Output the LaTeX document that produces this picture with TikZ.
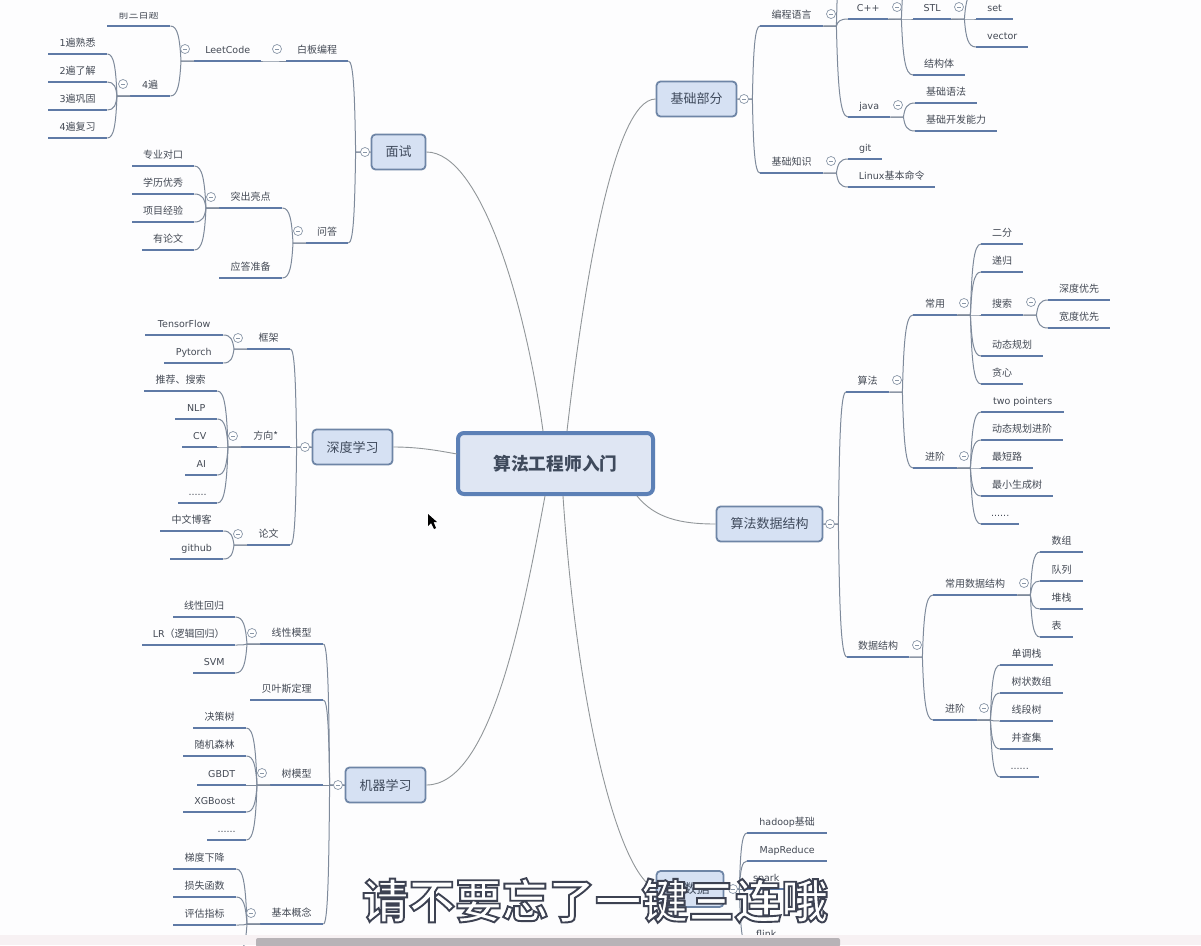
\documentclass[tikz,border=0pt]{standalone}
\usepackage{fontspec}
\usetikzlibrary{calc}
\setmainfont{Noto Sans CJK SC}
\newfontfamily\latf{DejaVu Sans}
\newfontfamily\subf[BoldFont={Noto Sans CJK SC Bold}]{Noto Sans CJK SC}
\newcommand{\lat}[1]{{\latf\fontsize{9.5}{11}\selectfont #1}}
\definecolor{pagebg}{HTML}{FDFDFE}
\definecolor{barc}{HTML}{5F7AA6}
\definecolor{connc}{HTML}{7E8A9B}
\definecolor{mainc}{HTML}{919699}
\definecolor{boxfill}{HTML}{D6E1F3}
\definecolor{boxline}{HTML}{6E85A6}
\definecolor{mainfill}{HTML}{DFE6F3}
\definecolor{mainline}{HTML}{5C80B6}
\definecolor{txtc}{HTML}{444A55}
\definecolor{boxtxt}{HTML}{3F4A5C}
\definecolor{stripc}{HTML}{F7F1F3}
\definecolor{scrollc}{HTML}{B7B3B7}
\definecolor{togc}{HTML}{8A97A8}
\tikzset{
  x=1pt,y=-1pt,
  barnode/.style={anchor=south west,inner sep=0pt,minimum height=21pt,text height=8.6pt,text depth=1.4pt,align=center,font=\fontsize{10}{12}\selectfont,text=txtc},
  barline/.style={draw=barc,line width=2.6pt},
  conn/.style={draw=connc,line width=1pt},
  mainconn/.style={draw=mainc,line width=0.9pt},
  topicbox/.style={draw=boxline,fill=boxfill,line width=1.8pt,rounded corners=4pt,inner sep=0pt,font=\fontsize{13}{15}\selectfont,text=boxtxt},
  centerbox/.style={draw=mainline,fill=mainfill,line width=4pt,rounded corners=6pt,inner sep=0pt,font=\fontsize{17.7}{20}\bfseries\selectfont,text=boxtxt},
  toggle/.style={circle,draw=togc,fill=white,line width=0.7pt,minimum size=9pt,inner sep=0pt,
    path picture={\draw[togc,line width=0.7pt] ([xshift=-2pt]path picture bounding box.center) -- ([xshift=2pt]path picture bounding box.center);}},
}
% bar topic: name, x1, x2, y, text
\newcommand{\tb}[5]{\pgfmathsetmacro{\tbw}{#3-#2}
  \node[barnode,minimum width=\tbw pt] (#1) at (#2,#4) {#5};
  \draw[barline] (#1.south west) -- (#1.south east);}
\newcommand{\lkgen}[3]{\draw[conn] let \p1=(#1),\p2=(#2),\n1={\x1+(#3)} in
  (\p1) -- (\n1,\y1) .. controls ({\n1+0.12*(\x2-\n1)},{\y1+0.65*(\y2-\y1)}) and ({\n1+0.3*(\x2-\n1)},\y2) .. (\p2);}
\newcommand{\lkR}[2]{\lkgen{#1.south east}{#2.south west}{13}}
\newcommand{\lkL}[2]{\lkgen{#1.south west}{#2.south east}{-13}}
\newcommand{\bxR}[2]{\lkgen{#1.east}{#2.south west}{15}}
\newcommand{\bxL}[2]{\lkgen{#1.west}{#2.south east}{-15}}
\begin{document}
\begin{tikzpicture}
\useasboundingbox (0,0) rectangle (1201,945);
\clip (0,0) rectangle (1201,945);
\fill[pagebg] (0,0) rectangle (1201,945);

% central and main topics
\node[centerbox,minimum width=195pt,minimum height=61pt] (root) at (555.5,463.5) {算法工程师入门};
\node[topicbox,minimum width=54pt,minimum height=35pt] (ms) at (398.5,152) {面试};
\node[topicbox,minimum width=80pt,minimum height=35pt] (sd) at (352.5,447) {深度学习};
\node[topicbox,minimum width=80pt,minimum height=35pt] (jq) at (385.5,785) {机器学习};
\node[topicbox,minimum width=80pt,minimum height=35pt] (jc) at (696.5,99) {基础部分};
\node[topicbox,minimum width=106pt,minimum height=35pt] (sf) at (769.5,524) {算法数据结构};
\node[topicbox,minimum width=67pt,minimum height=36pt] (bd) at (690,889) {大数据};

\coordinate (r1) at (543,431);
\coordinate (r2) at (567,431);
\coordinate (r3) at (457,454);
\coordinate (r4) at (545,496);
\coordinate (r5) at (637,496);
\coordinate (r6) at (563,496);
\draw[mainconn] (ms.east) .. controls (480,152) and (525,300) .. (r1);
\draw[mainconn] (jc.west) .. controls (612,99) and (582,300) .. (r2);
\draw[mainconn] (sd.east) .. controls (420,447) and (440,451) .. (r3);
\draw[mainconn] (jq.east) .. controls (490,785) and (522,620) .. (r4);
\draw[mainconn] (sf.west) .. controls (680,524) and (655,518) .. (r5);
\draw[mainconn] (bd.west) .. controls (620,875) and (578,720) .. (r6);

% interview
\tb{bb}{286}{348}{61}{白板编程}
\tb{lc}{194}{261}{61}{\lat{LeetCode}}
\tb{qs}{107}{170}{26}{前三百题}
\tb{si}{130}{170}{96}{\lat{4}遍}
\tb{a1}{48}{107}{54}{\lat{1}遍熟悉}
\tb{a2}{48}{107}{82}{\lat{2}遍了解}
\tb{a3}{48}{107}{110}{\lat{3}遍巩固}
\tb{a4}{48}{107}{138}{\lat{4}遍复习}
\tb{wd}{306}{348}{243}{问答}
\tb{tc}{219}{282}{208}{突出亮点}
\tb{yd}{219}{282}{278}{应答准备}
\tb{b1}{132}{194}{166}{专业对口}
\tb{b2}{132}{194}{194}{学历优秀}
\tb{b3}{132}{194}{222}{项目经验}
\tb{b4}{142}{194}{250}{有论文}
\bxL{ms}{bb}\bxL{ms}{wd}
\lkL{bb}{lc}
\lkL{lc}{qs}\lkL{lc}{si}
\lkL{si}{a1}\lkL{si}{a2}\lkL{si}{a3}\lkL{si}{a4}
\lkL{wd}{tc}\lkL{wd}{yd}
\lkL{tc}{b1}\lkL{tc}{b2}\lkL{tc}{b3}\lkL{tc}{b4}

% deep learning
\tb{kj}{247}{290}{349}{框架}
\tb{fx}{241}{290}{447}{方向*}
\tb{lw}{247}{290}{545}{论文}
\tb{c1}{145}{223}{335}{\lat{TensorFlow}}
\tb{c2}{164}{223}{363}{\lat{Pytorch}}
\tb{d1}{144}{217}{391}{推荐、搜索}
\tb{d2}{175}{217}{419}{\lat{NLP}}
\tb{d3}{182}{217}{447}{\lat{CV}}
\tb{d4}{185}{217}{475}{\lat{AI}}
\tb{d5}{178}{217}{503}{\lat{......}}
\tb{e1}{160}{223}{531}{中文博客}
\tb{e2}{170}{223}{559}{\lat{github}}
\bxL{sd}{kj}\bxL{sd}{fx}\bxL{sd}{lw}
\lkL{kj}{c1}\lkL{kj}{c2}
\lkL{fx}{d1}\lkL{fx}{d2}\lkL{fx}{d3}\lkL{fx}{d4}\lkL{fx}{d5}
\lkL{lw}{e1}\lkL{lw}{e2}

% machine learning
\tb{xx}{260}{323}{644}{线性模型}
\tb{by}{250}{323}{700}{贝叶斯定理}
\tb{sm}{270}{323}{785}{树模型}
\tb{jb}{260}{323}{924}{基本概念}
\tb{f1}{173}{235}{617}{线性回归}
\tb{f2}{142}{235}{645}{\lat{LR}（逻辑回归）}
\tb{f3}{193}{235}{673}{\lat{SVM}}
\tb{g1}{193}{246}{728}{决策树}
\tb{g2}{183}{246}{756}{随机森林}
\tb{g3}{197}{246}{785}{\lat{GBDT}}
\tb{g4}{183}{246}{812}{\lat{XGBoost}}
\tb{g5}{207}{246}{840}{\lat{......}}
\tb{h1}{173}{236}{869}{梯度下降}
\tb{h2}{173}{236}{897}{损失函数}
\tb{h3}{173}{236}{925}{评估指标}
\coordinate (h4) at (236,953);
\bxL{jq}{xx}\bxL{jq}{by}\bxL{jq}{sm}\bxL{jq}{jb}
\lkL{xx}{f1}\lkL{xx}{f2}\lkL{xx}{f3}
\lkL{sm}{g1}\lkL{sm}{g2}\lkL{sm}{g3}\lkL{sm}{g4}\lkL{sm}{g5}
\lkL{jb}{h1}\lkL{jb}{h2}\lkL{jb}{h3}
\lkgen{jb.south west}{h4}{-13}

% basics
\tb{bc}{760}{823}{26}{编程语言}
\tb{cp}{848}{888}{19}{\lat{C++}}
\tb{st}{913}{951}{19}{\lat{STL}}
\tb{se}{976}{1013}{19}{\lat{set}}
\tb{ve}{976}{1028}{47}{\lat{vector}}
\tb{jg}{913}{965}{75}{结构体}
\tb{ja}{848}{890}{117}{\lat{java}}
\tb{j1}{915}{977}{103}{基础语法}
\tb{j2}{915}{997}{131}{基础开发能力}
\tb{zs}{760}{823}{173}{基础知识}
\tb{gi}{848}{882}{159}{\lat{git}}
\tb{li}{848}{935}{187}{\lat{Linux}基本命令}
\coordinate (o1) at (848,-70);
\coordinate (o2) at (913,-40);
\coordinate (o3) at (976,-9);
\bxR{jc}{bc}\bxR{jc}{zs}
\lkR{bc}{cp}\lkR{bc}{ja}\lkgen{bc.south east}{o1}{13}
\lkR{cp}{st}\lkR{cp}{jg}\lkgen{cp.south east}{o2}{13}
\lkR{st}{se}\lkR{st}{ve}\lkgen{st.south east}{o3}{13}
\lkR{ja}{j1}\lkR{ja}{j2}
\lkR{zs}{gi}\lkR{zs}{li}

% algorithms
\tb{sa}{846}{889}{392}{算法}
\tb{sj}{847}{909}{657}{数据结构}
\tb{cy}{913}{957}{315}{常用}
\tb{jj}{913}{957}{468}{进阶}
\tb{k1}{981}{1023}{244}{二分}
\tb{k2}{981}{1023}{272}{递归}
\tb{k3}{981}{1023}{315}{搜索}
\tb{k4}{981}{1043}{356}{动态规划}
\tb{k5}{981}{1023}{384}{贪心}
\tb{s1}{1048}{1110}{300}{深度优先}
\tb{s2}{1048}{1110}{328}{宽度优先}
\tb{m1}{981}{1064}{412}{\lat{two pointers}}
\tb{m2}{981}{1063}{440}{动态规划进阶}
\tb{m3}{981}{1033}{468}{最短路}
\tb{m4}{981}{1053}{496}{最小生成树}
\tb{m5}{981}{1019}{524}{\lat{......}}
\tb{cs}{933}{1017}{595}{常用数据结构}
\tb{jd}{933}{977}{720}{进阶}
\tb{n1}{1040}{1083}{552}{数组}
\tb{n2}{1040}{1083}{581}{队列}
\tb{n3}{1040}{1083}{609}{堆栈}
\tb{n4}{1040}{1073}{637}{表}
\tb{p1}{1000}{1053}{665}{单调栈}
\tb{p2}{1000}{1063}{693}{树状数组}
\tb{p3}{1000}{1053}{721}{线段树}
\tb{p4}{1000}{1053}{749}{并查集}
\tb{p5}{1000}{1039}{777}{\lat{......}}
\bxR{sf}{sa}\bxR{sf}{sj}
\lkR{sa}{cy}\lkR{sa}{jj}
\lkR{cy}{k1}\lkR{cy}{k2}\lkR{cy}{k3}\lkR{cy}{k4}\lkR{cy}{k5}
\lkR{k3}{s1}\lkR{k3}{s2}
\lkR{jj}{m1}\lkR{jj}{m2}\lkR{jj}{m3}\lkR{jj}{m4}\lkR{jj}{m5}
\lkR{sj}{cs}\lkR{sj}{jd}
\lkR{cs}{n1}\lkR{cs}{n2}\lkR{cs}{n3}\lkR{cs}{n4}
\lkR{jd}{p1}\lkR{jd}{p2}\lkR{jd}{p3}\lkR{jd}{p4}\lkR{jd}{p5}

% big data
\tb{q1}{747}{827}{833}{\lat{hadoop}基础}
\tb{q2}{747}{827}{861}{\lat{MapReduce}}
\tb{q3}{747}{785}{889}{\lat{spark}}
\tb{q5}{747}{785}{945}{\lat{flink}}
\bxR{bd}{q1}\bxR{bd}{q2}\bxR{bd}{q3}\bxR{bd}{q5}

% toggles
\foreach \tn/\tx/\ty in {t1/185/49,t2/277/49,t3/123/84,t4/365/152,t5/211/197,t6/298/231,
  t7/238/338,t8/233/436,t9/238/534,t10/305/447,
  t11/252/633,t12/262/773,t13/251/913,t14/338/785,
  t15/744/99,t16/831/14,t17/897/7,t18/959/7,t19/898/105,t20/831/161,
  t21/830/524,t22/897/380,t23/964/303,t24/964/456,t25/1031/302,
  t26/917/645,t27/1024/583,t28/984/708,t29/733/889}
  {\node[toggle] (\tn) at (\tx,\ty) {};}

% top edge of the shot cuts the first label
\fill[pagebg] (100,0) rectangle (180,12);

% cursor
\fill[black] (428,514) -- (428,526) -- (431,523) -- (434,529) -- (436,528) -- (433.5,522) -- (437,522) -- cycle;

% bottom strip and scrollbar
\fill[stripc] (0,935) rectangle (1201,945);
\fill[scrollc,rounded corners=2pt] (256,938) rectangle (840,947);

% subtitle
\node[inner sep=0pt,font=\subf\bfseries\fontsize{46.6}{50}\selectfont] (sub) at (595,900.5)
  {\special{pdf:code 2 Tr 1.9 w 0.24 0.26 0.32 RG 1 1 1 rg}请不要忘了一键三连哦\special{pdf:code 0 Tr 1 w 0 0 0 RG 0 0 0 rg}};
\end{tikzpicture}
\end{document}
